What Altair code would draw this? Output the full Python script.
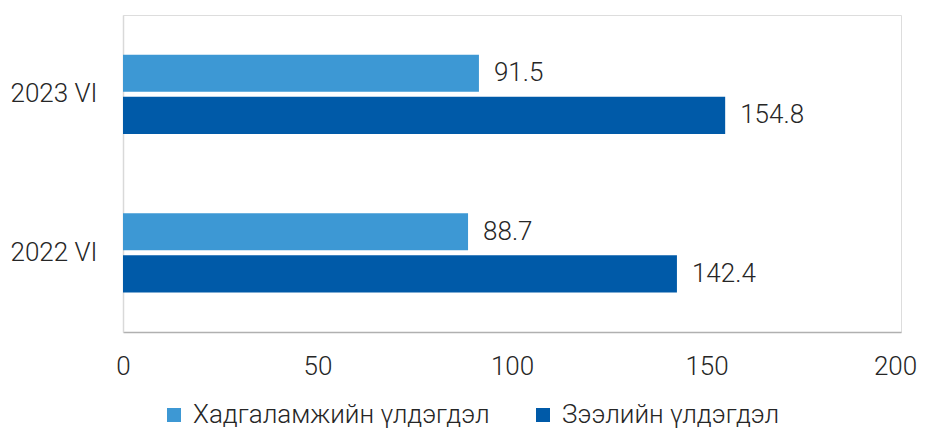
import altair as alt
import pandas as pd

categories = ["2023 VI", "2023 VI", "2022 VI", "2022 VI"]
series = ["Хадгаламжийн үлдэгдэл", "Зээлийн үлдэгдэл", "Хадгаламжийн үлдэгдэл", "Зээлийн үлдэгдэл"]
values = [91.5, 154.8, 88.7, 142.4]

series_order = ["Хадгаламжийн үлдэгдэл", "Зээлийн үлдэгдэл"]
cat_order = ["2023 VI", "2022 VI"]
colors = ["#3D98D4", "#005AA8"]

df = pd.DataFrame({"cat": categories, "series": series, "value": values})
df["order"] = df["series"].map({s: i for i, s in enumerate(series_order)})

FONT = "Roboto"
FS = 26

y = alt.Y("cat:N", sort=cat_order, title=None,
          scale=alt.Scale(paddingInner=0.5, paddingOuter=0.25),
          axis=alt.Axis(ticks=False, labelPadding=26, labelFontSize=FS, labelFont=FONT,
                        labelFontWeight=300, labelColor="#262626", labelLimit=0,
                        domainColor="#d9d9d9", domainWidth=1.5))
yoff = alt.YOffset("order:O", scale=alt.Scale(paddingInner=0.12))

x = alt.X("value:Q", title=None,
          scale=alt.Scale(domain=[0, 200], nice=False),
          axis=alt.Axis(values=[0, 50, 100, 150, 200], ticks=False, grid=False,
                        labelFlush=False, labelOverlap=False,
                        labelOffset={"condition": {"test": "datum.value == 200", "value": -6}, "value": 0},
                        labelPadding=21, labelFontSize=FS, labelFont=FONT,
                        labelFontWeight=300, labelColor="#262626",
                        domainColor="#b0b0b0", domainWidth=1.5))

bars = alt.Chart(df).mark_bar().encode(
    x=x, y=y, yOffset=yoff,
    color=alt.Color("series:N", sort=series_order,
                    scale=alt.Scale(domain=series_order, range=colors),
                    legend=alt.Legend(title=None, orient="none", direction="horizontal",
                                      legendX=38, legendY=387, symbolType="square",
                                      symbolSize=196, symbolStrokeWidth=0,
                                      labelFontSize=FS, labelFont=FONT, labelFontWeight=300,
                                      labelColor="#262626", labelLimit=0, columnPadding=40,
                                      labelOffset=6, padding=0)),
)

labels = alt.Chart(df).mark_text(align="left", baseline="middle", dx=15, fontSize=FS,
                                 font=FONT, fontWeight=300, color="#262626").encode(
    x="value:Q", y=alt.Y("cat:N", sort=cat_order), yOffset=alt.YOffset("order:O"),
    text=alt.Text("value:Q", format=".1f"),
)

chart = alt.layer(bars, labels).properties(
    width=778, height=317,
    autosize=alt.AutoSizeParams(type="none"),
    padding={"left": 115, "top": 7, "right": 16, "bottom": 100},
).configure_view(stroke=None).configure(background="white")

chart.save("out.html", embed_options={"renderer": "svg", "actions": False})
